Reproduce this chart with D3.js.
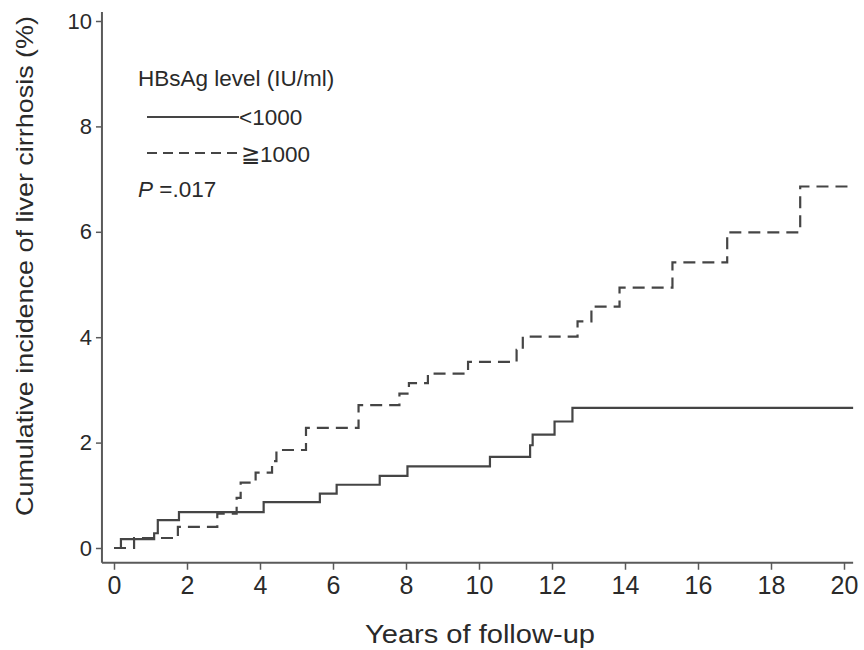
<!DOCTYPE html>
<meta charset="utf-8">
<script src="https://d3js.org/d3.v7.min.js"></script>
<style>
  body { margin: 0; background: #fff; }
  text { font-family: "Liberation Sans", Arial, sans-serif; fill: #2a2a2a; }
</style>
<div id="chart"></div>
<script>
// step curves: time (years) where each level starts, and the level (%)
const lowTimes  = [0, 0.19, 1.1, 1.2, 1.78, 4.1, 5.64, 6.1, 7.28, 8.04, 10.3, 11.4, 11.47, 12.07, 12.56, 20.25]
const lowValues = [0, 0.17, 0.28, 0.53, 0.68, 0.87, 1.03, 1.2, 1.37, 1.55, 1.73, 1.95, 2.15, 2.4, 2.66, 2.66]

const highTimes  = [0, 0.55, 1.75, 2.83, 3.36, 3.47, 3.88, 4.33, 4.45, 5.26, 6.7, 7.82, 8.08, 8.6, 9.7, 11.03, 11.2, 12.7, 13.08, 13.85, 15.3, 16.8, 18.8, 20.25]
const highValues = [0, 0.19, 0.4, 0.65, 0.95, 1.24, 1.43, 1.65, 1.86, 2.28, 2.71, 2.93, 3.13, 3.31, 3.53, 3.76, 4.01, 4.3, 4.58, 4.94, 5.42, 5.99, 6.86, 6.86]

const xTicks = [0, 2, 4, 6, 8, 10, 12, 14, 16, 18, 20]
const yTicks = [0, 2, 4, 6, 8, 10]

const width = 864
const height = 650

const svg = d3.select("#chart")
    .append("svg")
    .attr("width", width)
    .attr("height", height)

const x = d3.scaleLinear().domain([0, 20]).range([114, 844])
const y = d3.scaleLinear().domain([0, 10]).range([548, 21])

const axisColor = "#5a5a5a"
const lineColor = "#454545"

// axis lines (a bit longer than the data range, like the original)
svg.append("line")
    .attr("x1", x(-0.33)).attr("x2", x(-0.33))
    .attr("y1", y(10.17)).attr("y2", y(-0.28))
    .attr("stroke", axisColor).attr("stroke-width", 2)
svg.append("line")
    .attr("x1", x(-0.33)).attr("x2", x(20.25))
    .attr("y1", y(-0.28)).attr("y2", y(-0.28))
    .attr("stroke", axisColor).attr("stroke-width", 2)

// y axis
const yAxis = svg.append("g")
    .attr("transform", `translate(${x(-0.33)},0)`)
    .call(d3.axisLeft(y).tickValues(yTicks).tickSize(6).tickPadding(4))
yAxis.select(".domain").remove()
yAxis.selectAll(".tick line").attr("stroke", axisColor).attr("stroke-width", 1.5)
yAxis.selectAll(".tick text")
    .style("font-size", "22px")
    .style("font-family", "Liberation Sans, Arial, sans-serif")
    .attr("fill", "#2a2a2a")

// x axis
const xAxis = svg.append("g")
    .attr("transform", `translate(0,${y(-0.28)})`)
    .call(d3.axisBottom(x).tickValues(xTicks).tickSize(7).tickPadding(6))
xAxis.select(".domain").remove()
xAxis.selectAll(".tick line").attr("stroke", axisColor).attr("stroke-width", 1.5)
xAxis.selectAll(".tick text")
    .style("font-size", "25px")
    .style("font-family", "Liberation Sans, Arial, sans-serif")
    .attr("fill", "#2a2a2a")

// curves
const line = d3.line()
    .x(d => x(d[0]))
    .y(d => y(d[1]))
    .curve(d3.curveStepAfter)

svg.append("path")
    .datum(d3.zip(lowTimes, lowValues))
    .attr("d", line)
    .attr("fill", "none")
    .attr("stroke", lineColor)
    .attr("stroke-width", 2.2)

svg.append("path")
    .datum(d3.zip(highTimes, highValues))
    .attr("d", line)
    .attr("fill", "none")
    .attr("stroke", lineColor)
    .attr("stroke-width", 2.2)
    .attr("stroke-dasharray", "12,7")

// axis titles
svg.append("text")
    .attr("transform", `translate(33,266) rotate(-90)`)
    .attr("text-anchor", "middle")
    .attr("textLength", 500)
    .attr("lengthAdjust", "spacingAndGlyphs")
    .style("font-size", "24px")
    .text("Cumulative incidence of liver cirrhosis (%)")

svg.append("text")
    .attr("x", 480)
    .attr("y", 643)
    .attr("text-anchor", "middle")
    .attr("textLength", 230)
    .attr("lengthAdjust", "spacingAndGlyphs")
    .style("font-size", "25px")
    .text("Years of follow-up")

// legend
const legend = svg.append("g").attr("transform", "translate(138,0)")
legend.append("text")
    .attr("x", 0).attr("y", 86)
    .style("font-size", "22.5px")
    .text("HBsAg level (IU/ml)")

legend.append("line")
    .attr("x1", 9).attr("x2", 101).attr("y1", 117).attr("y2", 117)
    .attr("stroke", lineColor).attr("stroke-width", 2.2)
legend.append("text")
    .attr("x", 101).attr("y", 125)
    .style("font-size", "22.5px")
    .text("<1000")

legend.append("line")
    .attr("x1", 9).attr("x2", 103).attr("y1", 153).attr("y2", 153)
    .attr("stroke", lineColor).attr("stroke-width", 2.2)
    .attr("stroke-dasharray", "10,6")
legend.append("text")
    .attr("x", 103).attr("y", 162)
    .style("font-size", "22.5px")
    .text("≧1000")

const p = legend.append("text")
    .attr("x", 0).attr("y", 197)
    .style("font-size", "22.5px")
p.append("tspan").style("font-style", "italic").text("P")
p.append("tspan").text(" =.017")
</script>
